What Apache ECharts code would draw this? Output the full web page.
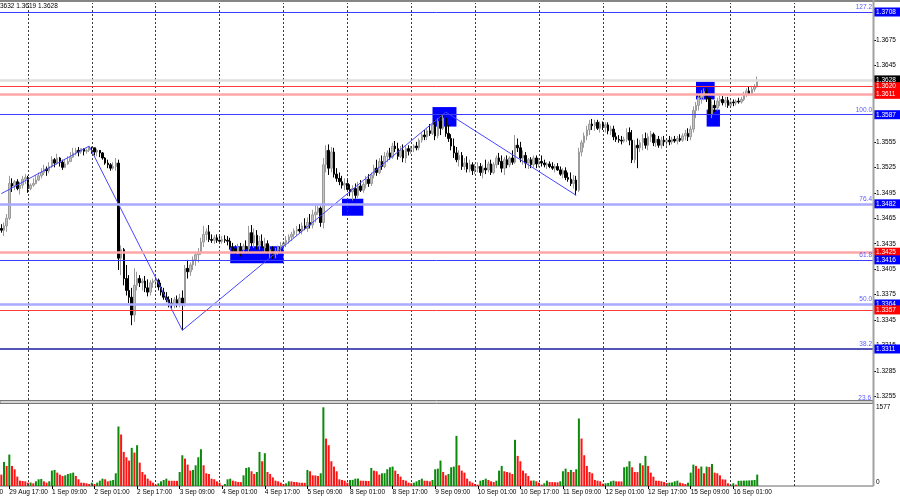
<!DOCTYPE html>
<html><head><meta charset="utf-8">
<script src="https://cdn.jsdelivr.net/npm/echarts@6/dist/echarts.min.js"></script>
<style>html,body{margin:0;padding:0;background:#fff;overflow:hidden}#c{width:900px;height:500px}</style>
</head><body><div id="c"></div>
<script>
// ---------------- DATA ----------------
const open=[1.3453,1.3451,1.3456,1.3465,1.3506,1.3503,1.3508,1.3500,1.3504,1.3511,
1.3513,1.3500,1.3504,1.3506,1.3510,1.3515,1.3519,1.3523,1.3521,1.3526,
1.3534,1.3530,1.3536,1.3531,1.3525,1.3529,1.3532,1.3537,1.3542,1.3545,
1.3543,1.3547,1.3544,1.3545,1.3549,1.3548,1.3543,1.3545,1.3542,1.3536,
1.3530,1.3528,1.3524,1.3526,1.3530,1.3418,1.3428,1.3394,1.3380,1.3372,
1.3351,1.3386,1.3394,1.3389,1.3391,1.3383,1.3378,1.3389,1.3391,1.3392,
1.3384,1.3378,1.3372,1.3369,1.3365,1.3363,1.3369,1.3364,1.3371,1.3365,
1.3406,1.3402,1.3410,1.3416,1.3422,1.3425,1.3437,1.3446,1.3449,1.3440,
1.3439,1.3442,1.3439,1.3438,1.3440,1.3439,1.3438,1.3431,1.3429,1.3426,
1.3431,1.3428,1.3432,1.3429,1.3448,1.3436,1.3445,1.3433,1.3438,1.3430,
1.3435,1.3425,1.3428,1.3423,1.3426,1.3431,1.3433,1.3436,1.3439,1.3443,
1.3446,1.3450,1.3452,1.3450,1.3456,1.3453,1.3460,1.3457,1.3469,1.3472,
1.3477,1.3460,1.3528,1.3545,1.3524,1.3543,1.3517,1.3512,1.3508,1.3504,
1.3506,1.3499,1.3496,1.3500,1.3492,1.3503,1.3498,1.3505,1.3511,1.3506,
1.3516,1.3524,1.3519,1.3532,1.3526,1.3538,1.3542,1.3537,1.3550,1.3547,
1.3538,1.3545,1.3536,1.3547,1.3544,1.3548,1.3550,1.3548,1.3557,1.3563,
1.3561,1.3568,1.3565,1.3575,1.3562,1.3579,1.3571,1.3583,1.3565,1.3559,
1.3550,1.3542,1.3534,1.3539,1.3526,1.3530,1.3523,1.3528,1.3521,1.3524,
1.3526,1.3519,1.3524,1.3522,1.3529,1.3519,1.3528,1.3536,1.3532,1.3524,
1.3534,1.3528,1.3536,1.3531,1.3551,1.3548,1.3536,1.3539,1.3530,1.3534,
1.3528,1.3536,1.3529,1.3532,1.3530,1.3528,1.3529,1.3526,1.3524,1.3526,
1.3522,1.3517,1.3521,1.3513,1.3511,1.3506,1.3510,1.3498,1.3543,1.3554,
1.3562,1.3569,1.3576,1.3574,1.3578,1.3571,1.3576,1.3572,1.3575,1.3568,
1.3570,1.3561,1.3558,1.3557,1.3556,1.3558,1.3566,1.3557,1.3534,1.3551,
1.3548,1.3554,1.3559,1.3551,1.3561,1.3564,1.3554,1.3558,1.3551,1.3557,
1.3555,1.3557,1.3555,1.3558,1.3556,1.3559,1.3557,1.3562,1.3565,1.3561,
1.3570,1.3592,1.3598,1.3607,1.3610,1.3614,1.3607,1.3587,1.3598,1.3595,
1.3603,1.3605,1.3601,1.3604,1.3598,1.3602,1.3601,1.3603,1.3602,1.3605,
1.3611,1.3615,1.3612,1.3617,1.3620];
const high=[1.3458,1.3460,1.3470,1.3515,1.3512,1.3510,1.3511,1.3508,1.3515,1.3517,
1.3515,1.3506,1.3512,1.3516,1.3519,1.3524,1.3528,1.3526,1.3531,1.3538,
1.3536,1.3541,1.3537,1.3534,1.3535,1.3538,1.3543,1.3548,1.3548,1.3549,
1.3547,1.3545,1.3547,1.3550,1.3549,1.3548,1.3547,1.3545,1.3543,1.3537,
1.3534,1.3530,1.3531,1.3536,1.3534,1.3433,1.3430,1.3410,1.3398,1.3383,
1.3406,1.3402,1.3398,1.3394,1.3397,1.3393,1.3392,1.3394,1.3396,1.3394,
1.3389,1.3383,1.3378,1.3373,1.3371,1.3372,1.3374,1.3376,1.3380,1.3410,
1.3416,1.3413,1.3420,1.3425,1.3430,1.3442,1.3456,1.3453,1.3457,1.3446,
1.3445,1.3446,1.3444,1.3444,1.3445,1.3444,1.3442,1.3436,1.3433,1.3435,
1.3436,1.3435,1.3439,1.3456,1.3457,1.3453,1.3451,1.3444,1.3446,1.3442,
1.3439,1.3433,1.3432,1.3430,1.3433,1.3437,1.3438,1.3444,1.3446,1.3449,
1.3453,1.3456,1.3458,1.3460,1.3465,1.3466,1.3470,1.3475,1.3480,1.3480,
1.3479,1.3536,1.3551,1.3552,1.3549,1.3548,1.3524,1.3519,1.3515,1.3512,
1.3510,1.3505,1.3504,1.3506,1.3508,1.3510,1.3508,1.3515,1.3517,1.3519,
1.3528,1.3534,1.3536,1.3539,1.3543,1.3545,1.3548,1.3554,1.3556,1.3554,
1.3550,1.3552,1.3550,1.3551,1.3550,1.3552,1.3555,1.3559,1.3566,1.3569,
1.3571,1.3576,1.3578,1.3581,1.3583,1.3588,1.3587,1.3590,1.3575,1.3564,
1.3559,1.3549,1.3545,1.3543,1.3536,1.3538,1.3534,1.3531,1.3529,1.3531,
1.3530,1.3528,1.3534,1.3532,1.3534,1.3531,1.3539,1.3542,1.3539,1.3537,
1.3539,1.3538,1.3545,1.3563,1.3559,1.3555,1.3545,1.3543,1.3536,1.3537,
1.3539,1.3539,1.3536,1.3539,1.3534,1.3531,1.3532,1.3531,1.3529,1.3530,
1.3526,1.3524,1.3525,1.3519,1.3519,1.3516,1.3515,1.3548,1.3557,1.3566,
1.3574,1.3581,1.3582,1.3581,1.3581,1.3579,1.3579,1.3578,1.3578,1.3574,
1.3574,1.3566,1.3563,1.3562,1.3561,1.3571,1.3572,1.3569,1.3557,1.3559,
1.3557,1.3564,1.3566,1.3565,1.3568,1.3566,1.3563,1.3562,1.3561,1.3562,
1.3559,1.3562,1.3561,1.3562,1.3562,1.3564,1.3565,1.3569,1.3571,1.3574,
1.3597,1.3602,1.3610,1.3616,1.3618,1.3618,1.3616,1.3604,1.3604,1.3607,
1.3609,1.3609,1.3608,1.3608,1.3604,1.3605,1.3605,1.3607,1.3608,1.3614,
1.3618,1.3620,1.3621,1.3623,1.3632];
const low=[1.3448,1.3444,1.3449,1.3463,1.3496,1.3498,1.3498,1.3493,1.3500,1.3505,
1.3495,1.3498,1.3502,1.3505,1.3509,1.3512,1.3516,1.3515,1.3518,1.3524,
1.3525,1.3528,1.3526,1.3522,1.3524,1.3528,1.3531,1.3536,1.3539,1.3538,
1.3541,1.3539,1.3541,1.3543,1.3541,1.3539,1.3538,1.3537,1.3534,1.3528,
1.3524,1.3521,1.3522,1.3521,1.3404,1.3398,1.3386,1.3374,1.3365,1.3339,
1.3343,1.3380,1.3384,1.3380,1.3378,1.3373,1.3374,1.3383,1.3385,1.3380,
1.3374,1.3369,1.3366,1.3360,1.3359,1.3359,1.3360,1.3360,1.3333,1.3361,
1.3394,1.3397,1.3404,1.3409,1.3413,1.3422,1.3431,1.3439,1.3437,1.3436,
1.3435,1.3436,1.3435,1.3435,1.3436,1.3433,1.3428,1.3425,1.3422,1.3423,
1.3420,1.3424,1.3425,1.3426,1.3431,1.3430,1.3428,1.3428,1.3425,1.3425,
1.3420,1.3418,1.3417,1.3418,1.3422,1.3425,1.3428,1.3431,1.3435,1.3438,
1.3442,1.3444,1.3448,1.3446,1.3451,1.3449,1.3453,1.3453,1.3460,1.3469,
1.3455,1.3453,1.3519,1.3516,1.3519,1.3513,1.3508,1.3504,1.3500,1.3498,
1.3496,1.3491,1.3486,1.3488,1.3489,1.3496,1.3495,1.3500,1.3502,1.3503,
1.3512,1.3515,1.3517,1.3522,1.3524,1.3531,1.3534,1.3535,1.3543,1.3534,
1.3536,1.3531,1.3530,1.3539,1.3541,1.3543,1.3545,1.3545,1.3554,1.3557,
1.3557,1.3562,1.3563,1.3557,1.3559,1.3563,1.3569,1.3561,1.3555,1.3545,
1.3536,1.3531,1.3526,1.3522,1.3522,1.3519,1.3519,1.3516,1.3517,1.3519,
1.3515,1.3512,1.3517,1.3519,1.3516,1.3517,1.3524,1.3528,1.3519,1.3516,
1.3524,1.3525,1.3528,1.3529,1.3543,1.3531,1.3528,1.3524,1.3523,1.3524,
1.3525,1.3524,1.3525,1.3526,1.3525,1.3523,1.3524,1.3522,1.3519,1.3521,
1.3515,1.3512,1.3510,1.3508,1.3503,1.3500,1.3492,1.3496,1.3538,1.3548,
1.3557,1.3563,1.3569,1.3568,1.3569,1.3566,1.3569,1.3566,1.3564,1.3563,
1.3557,1.3555,1.3554,1.3552,1.3554,1.3555,1.3551,1.3530,1.3530,1.3524,
1.3543,1.3545,1.3547,1.3545,1.3555,1.3550,1.3549,1.3548,1.3547,1.3550,
1.3550,1.3551,1.3552,1.3554,1.3552,1.3555,1.3555,1.3557,1.3556,1.3557,
1.3566,1.3583,1.3592,1.3600,1.3604,1.3602,1.3583,1.3583,1.3590,1.3592,
1.3597,1.3598,1.3596,1.3595,1.3596,1.3597,1.3598,1.3600,1.3600,1.3603,
1.3608,1.3610,1.3610,1.3614,1.3619];
const close=[1.3451,1.3456,1.3465,1.3506,1.3503,1.3508,1.3500,1.3504,1.3511,1.3513,
1.3500,1.3504,1.3506,1.3510,1.3515,1.3519,1.3523,1.3521,1.3526,1.3534,
1.3530,1.3536,1.3531,1.3525,1.3529,1.3532,1.3537,1.3542,1.3545,1.3543,
1.3547,1.3544,1.3545,1.3549,1.3548,1.3543,1.3545,1.3542,1.3536,1.3530,
1.3528,1.3524,1.3526,1.3530,1.3418,1.3428,1.3394,1.3380,1.3372,1.3351,
1.3386,1.3394,1.3389,1.3391,1.3383,1.3378,1.3389,1.3391,1.3392,1.3384,
1.3378,1.3372,1.3369,1.3365,1.3363,1.3369,1.3364,1.3371,1.3365,1.3406,
1.3402,1.3410,1.3416,1.3422,1.3425,1.3437,1.3446,1.3449,1.3440,1.3439,
1.3442,1.3439,1.3438,1.3440,1.3439,1.3438,1.3431,1.3429,1.3426,1.3431,
1.3428,1.3432,1.3429,1.3448,1.3436,1.3445,1.3433,1.3438,1.3430,1.3435,
1.3425,1.3428,1.3423,1.3426,1.3431,1.3433,1.3436,1.3439,1.3443,1.3446,
1.3450,1.3452,1.3450,1.3456,1.3453,1.3460,1.3457,1.3469,1.3472,1.3477,
1.3460,1.3528,1.3545,1.3524,1.3543,1.3517,1.3512,1.3508,1.3504,1.3506,
1.3499,1.3496,1.3500,1.3492,1.3503,1.3498,1.3505,1.3511,1.3506,1.3516,
1.3524,1.3519,1.3532,1.3526,1.3538,1.3542,1.3537,1.3550,1.3547,1.3538,
1.3545,1.3536,1.3547,1.3544,1.3548,1.3550,1.3548,1.3557,1.3563,1.3561,
1.3568,1.3565,1.3575,1.3562,1.3579,1.3571,1.3583,1.3565,1.3559,1.3550,
1.3542,1.3534,1.3539,1.3526,1.3530,1.3523,1.3528,1.3521,1.3524,1.3526,
1.3519,1.3524,1.3522,1.3529,1.3519,1.3528,1.3536,1.3532,1.3524,1.3534,
1.3528,1.3536,1.3531,1.3551,1.3548,1.3536,1.3539,1.3530,1.3534,1.3528,
1.3536,1.3529,1.3532,1.3530,1.3528,1.3529,1.3526,1.3524,1.3526,1.3522,
1.3517,1.3521,1.3513,1.3511,1.3506,1.3510,1.3498,1.3543,1.3554,1.3562,
1.3569,1.3576,1.3574,1.3578,1.3571,1.3576,1.3572,1.3575,1.3568,1.3570,
1.3561,1.3558,1.3557,1.3556,1.3558,1.3566,1.3557,1.3534,1.3551,1.3548,
1.3554,1.3559,1.3551,1.3561,1.3564,1.3554,1.3558,1.3551,1.3557,1.3555,
1.3557,1.3555,1.3558,1.3556,1.3559,1.3557,1.3562,1.3565,1.3561,1.3570,
1.3592,1.3598,1.3607,1.3610,1.3614,1.3607,1.3587,1.3598,1.3595,1.3603,
1.3605,1.3601,1.3604,1.3598,1.3602,1.3601,1.3603,1.3602,1.3605,1.3611,
1.3615,1.3612,1.3617,1.3620,1.3628];
const volumes=[228,482,402,630,402,335,188,107,100,94,
67,70,54,94,134,140,94,67,94,308,
322,268,228,201,214,241,255,268,201,134,
67,64,54,40,67,40,67,107,147,134,
94,107,121,255,1193,1032,683,576,509,764,
670,817,469,281,228,147,107,67,27,54,
94,121,147,107,105,104,103,281,616,549,
429,308,322,415,576,737,415,255,241,147,
134,94,67,13,40,134,147,107,94,80,
78,214,362,375,295,241,281,683,496,657,
281,241,174,107,94,67,40,54,94,92,
80,78,67,65,63,322,295,214,212,201,
255,1577,951,817,496,389,295,134,121,107,
67,121,123,147,149,107,105,103,101,362,
308,295,228,255,257,335,375,389,308,241,
188,121,107,67,54,67,94,121,147,107,
105,94,121,335,348,509,281,214,241,375,
389,1005,415,308,268,147,94,67,40,27,
107,121,147,121,94,80,107,308,402,295,
281,268,241,925,603,496,308,255,201,107,
110,94,67,27,54,107,80,78,76,74,
94,295,348,281,322,281,335,1353,951,616,
402,281,255,121,107,94,47,54,60,94,
107,94,92,90,375,389,496,375,281,279,
456,415,603,402,268,188,107,105,94,80,
60,67,72,94,107,67,54,40,67,268,
429,402,348,389,255,389,380,442,268,255,
214,134,130,54,27,54,27,104,106,108,
110,112,115,121,228];
const tickLabels=['29 Aug 17:00','1 Sep 09:00','2 Sep 01:00','2 Sep 17:00','3 Sep 09:00','4 Sep 01:00','4 Sep 17:00','5 Sep 09:00','8 Sep 01:00','8 Sep 17:00','9 Sep 09:00','10 Sep 01:00','10 Sep 17:00','11 Sep 09:00','12 Sep 01:00','12 Sep 17:00','15 Sep 09:00','16 Sep 01:00'];
const tickBars=[3,19,35,51,67,83,99,115,131,147,163,179,195,211,227,243,259,275];
const cutLabel='29 Aug 01:00';
const dayStartBars=[10,34,58,82,106,130,154,178,202,226,250,274,298];
const priceTicks=[1.3255,1.3285,1.3315,1.3345,1.3375,1.3405,1.3435,1.3465,1.3495,1.3525,1.3555,1.3585,1.3615,1.3645,1.3675,1.3705];
const volTicks=[0,1577];
const levelPrices=[1.3708,1.3628,1.3620,1.3611,1.3587,1.3482,1.3425,1.3416,1.3364,1.3357,1.3311];
const fibNames=['127.2','100.0','76.4','61.8','50.0','38.2','23.6'];
const fibPrices=[1.3708,1.3587,1.3482,1.3416,1.3364,1.3311,1.3245];
const zigzagBars=[0,33,68,167,216];
const zigzagPrices=[1.3494,1.3550,1.3333,1.3590,1.3492];
const boxStartBar=[86,128,162,261,265];
const boxEndBar=[106,136,171,268,270];
const boxTop=[1.3432,1.3488,1.3596,1.3626,1.3593];
const boxBottom=[1.3412,1.3468,1.3573,1.3605,1.3573];
const headerText='3632 1.3619 1.3628';

// ---------------- STYLE / LAYOUT ----------------
const SLOTS=328;
const FONT='"Liberation Sans", Arial, sans-serif';
const FS=6.5;
const BLUE='#3c3cff', LBLUE='#a9a9ff', RED='#ff3a3a', PINK='#ffa6a6';
const levelStyle=[
 {c:BLUE,w:1,bg:'#0000ff'},{c:'#dedede',w:2.5,bg:'#000'},{c:RED,w:1,bg:'#ff0000'},{c:PINK,w:2.5,bg:'#ff0000'},
 {c:BLUE,w:1,bg:'#0000ff'},{c:LBLUE,w:2.5,bg:'#0000ff'},{c:PINK,w:2.5,bg:'#ff0000'},{c:BLUE,w:1,bg:'#0000ff'},
 {c:LBLUE,w:2.5,bg:'#0000ff'},{c:RED,w:1,bg:'#ff0000'},{c:'#1c1ca0',w:1.5,bg:'#0000ff'}];

const cats=Array.from({length:SLOTS},(_,i)=>String(i));
const labelMap={}; tickBars.forEach((b,k)=>labelMap[b]=tickLabels[k]);
const isLabel=(i)=>labelMap[i]!==undefined;
const candles=open.map((o,i)=>[o,close[i],low[i],high[i]]);
const zz=new Array(open.length).fill(null);
zigzagBars.forEach((b,k)=>zz[b]=zigzagPrices[k]);
const volData=volumes.map((v,i)=>({value:v,itemStyle:{color:(i>0&&v>volumes[i-1])?'#0d8a0d':'#ff1414'}}));

const levelLines=levelPrices.map((p,i)=>({yAxis:p,lineStyle:{color:levelStyle[i].c,width:levelStyle[i].w,type:'solid',opacity:1},
  label:{show:true,position:'end',distance:1,formatter:p.toFixed(4),color:'#fff',backgroundColor:levelStyle[i].bg,
  fontSize:FS,fontFamily:FONT,padding:[1,1,1,2],width:23,lineHeight:7}}));
const fibLabels=fibPrices.slice(0,6).map((p,i)=>({yAxis:p,lineStyle:{color:'rgba(0,0,0,0)',width:1,opacity:1},
  label:{show:true,position:'insideEndTop',distance:1,formatter:fibNames[i],color:'#5a5aff',fontSize:FS,fontFamily:FONT,opacity:1}}));
const dayLines=(dayStartBars).map(b=>({xAxis:b}));
const dashStyle={color:'#3a3a3a',width:1,type:[2,2]};

const chart=echarts.init(document.getElementById('c'),null,{renderer:'canvas'});
chart.setOption({
 animation:false,backgroundColor:'#fff',
 grid:[{left:-1,right:27,top:3,height:397},{left:-1,right:27,top:404,height:82}],
 xAxis:[
  {type:'category',gridIndex:0,data:cats,boundaryGap:true,axisLine:{show:false},axisTick:{show:false},axisLabel:{show:false},splitLine:{show:false}},
  {type:'category',gridIndex:1,data:cats,boundaryGap:true,axisLine:{show:true,lineStyle:{color:'#9a9a9a',width:1.5}},
   axisTick:{show:true,alignWithLabel:true,interval:isLabel,length:3,lineStyle:{color:'#000'}},
   axisLabel:{show:true,interval:isLabel,formatter:(v,i)=>labelMap[i]||'',align:'left',margin:3,padding:[0,0,0,0],fontSize:FS,fontFamily:FONT,color:'#000'},
   splitLine:{show:false}}
 ],
 yAxis:[
  {type:'value',gridIndex:0,position:'right',min:1.32509,max:1.37186,axisLine:{show:false},
   axisTick:{show:true,customValues:priceTicks,length:3,lineStyle:{color:'#000'}},
   axisLabel:{show:true,customValues:priceTicks,formatter:v=>v.toFixed(4),margin:3,fontSize:FS,fontFamily:FONT,color:'#000'},
   splitLine:{show:false}},
  {type:'value',gridIndex:1,position:'right',min:0,max:1643,axisLine:{show:false},axisTick:{show:false},
   axisLabel:{show:true,customValues:volTicks,formatter:v=>v===0?'{z|0}':String(v),margin:3,fontSize:FS,fontFamily:FONT,color:'#000',
     rich:{z:{padding:[0,0,8,0],fontSize:FS,fontFamily:FONT,color:'#000'}}},
   splitLine:{show:false}}
 ],
 series:[
  {type:'line',name:'boxes',xAxisIndex:0,yAxisIndex:0,data:[],z:1,silent:true,
   markArea:{silent:true,itemStyle:{color:'#0000ff',opacity:1},
     data:boxStartBar.map((s,k)=>[{xAxis:s,yAxis:boxTop[k]},{xAxis:boxEndBar[k],yAxis:boxBottom[k]}])},
   markLine:{silent:true,symbol:['none','none'],label:{show:false},lineStyle:dashStyle,data:dayLines}},
  {type:'candlestick',name:'price',xAxisIndex:0,yAxisIndex:0,data:candles,barWidth:2,z:3,
   itemStyle:{color:'#c4c4c4',color0:'#000',borderColor:'#9a9a9a',borderColor0:'#000',borderWidth:1},
   markLine:{silent:true,symbol:['none','none'],precision:4,data:levelLines.concat(fibLabels)}},
  {type:'line',name:'zigzag',xAxisIndex:0,yAxisIndex:0,data:zz,connectNulls:true,symbol:'none',z:4,
   lineStyle:{color:'#4646ff',width:1}},
  {type:'bar',name:'volume',xAxisIndex:1,yAxisIndex:1,data:volData,barWidth:2,z:3,
   markLine:{silent:true,symbol:['none','none'],label:{show:false},lineStyle:dashStyle,data:dayLines}}
 ],
 graphic:[
  {type:'line',shape:{x1:0,y1:1,x2:900,y2:1},style:{stroke:'#5c5c5c',lineWidth:1.5},z:10},
  {type:'rect',shape:{x:0,y:400.5,width:873,height:3},style:{fill:'#d4d4d4',stroke:'#777',lineWidth:1},z:10},
  {type:'line',shape:{x1:873.5,y1:0,x2:873.5,y2:486},style:{stroke:'#a2a2a2',lineWidth:2},z:10},
  {type:'text',style:{x:0,y:6.5,text:headerText,fontSize:FS,fontFamily:FONT,fill:'#000',textVerticalAlign:'middle'},z:10},
  {type:'text',style:{x:871,y:398,text:fibNames[6],fontSize:FS,fontFamily:FONT,fill:'#5a5aff',textAlign:'right',textVerticalAlign:'middle'},z:9},
  {type:'text',style:{x:3,y:492.5,text:cutLabel,fontSize:FS,fontFamily:FONT,fill:'#000',textAlign:'right',textVerticalAlign:'middle'},z:10}
 ]
});
</script></body></html>
